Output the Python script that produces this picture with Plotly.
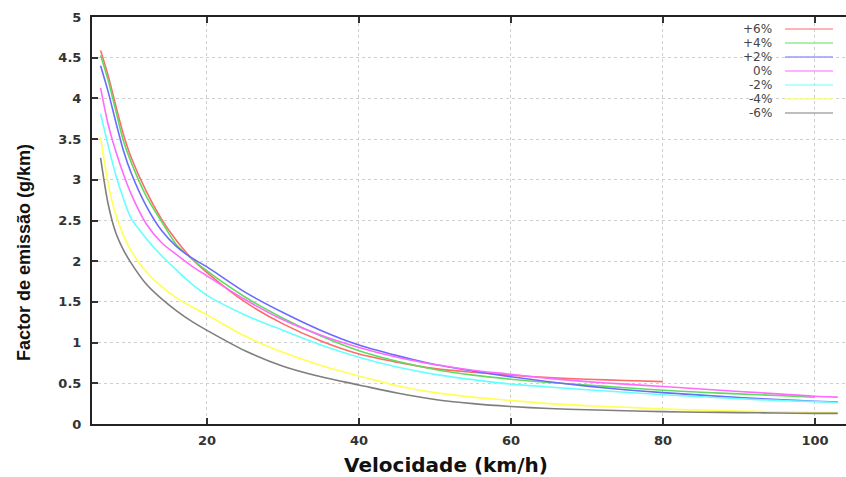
import plotly.graph_objects as go

# ---- data ----
speeds = [6, 7, 8, 9, 10, 12, 14, 16, 18, 20, 25, 30, 35, 40, 45, 50, 55, 60,
          65, 70, 75, 80, 85, 90, 95, 100, 103]

pos6 = [4.59, 4.28, 3.91, 3.56, 3.28, 2.86, 2.52, 2.25, 2.03, 1.86, 1.50, 1.23, 1.02, 0.86,
        0.76, 0.68, 0.635, 0.60, 0.57, 0.55, 0.535, 0.52, None, None, None, None, None]
pos4 = [4.53, 4.22, 3.85, 3.48, 3.22, 2.80, 2.49, 2.20, 2.03, 1.88, 1.56, 1.30, 1.08, 0.90,
        0.77, 0.67, 0.60, 0.55, 0.51, 0.48, 0.445, 0.415, 0.39, 0.37, 0.35, 0.33, None]
pos2 = [4.40, 4.08, 3.71, 3.36, 3.09, 2.68, 2.38, 2.18, 2.04, 1.93, 1.62, 1.37, 1.15, 0.97,
        0.84, 0.73, 0.65, 0.58, 0.52, 0.465, 0.42, 0.385, 0.355, 0.325, 0.30, 0.28, 0.27]
zero = [4.13, 3.68, 3.35, 3.07, 2.83, 2.46, 2.23, 2.08, 1.94, 1.82, 1.53, 1.28, 1.09, 0.94,
        0.82, 0.73, 0.66, 0.61, 0.56, 0.52, 0.49, 0.46, 0.43, 0.40, 0.37, 0.34, 0.33]
neg2 = [3.81, 3.42, 3.06, 2.77, 2.53, 2.28, 2.07, 1.89, 1.72, 1.58, 1.34, 1.15, 0.97, 0.82,
        0.70, 0.61, 0.545, 0.49, 0.455, 0.42, 0.39, 0.36, 0.335, 0.31, 0.29, 0.275, 0.265]
neg4 = [3.52, 2.95, 2.57, 2.32, 2.13, 1.87, 1.69, 1.55, 1.44, 1.34, 1.08, 0.88, 0.72, 0.59,
        0.47, 0.385, 0.33, 0.29, 0.25, 0.225, 0.205, 0.185, 0.17, 0.16, 0.15, 0.145, 0.14]
neg6 = [3.27, 2.70, 2.35, 2.14, 1.98, 1.72, 1.54, 1.39, 1.26, 1.15, 0.90, 0.71, 0.58, 0.48,
        0.38, 0.30, 0.25, 0.215, 0.19, 0.175, 0.162, 0.152, 0.145, 0.14, 0.135, 0.13, 0.13]

series_names = ["+6%", "+4%", "+2%", "0%", "-2%", "-4%", "-6%"]
series_values = [pos6, pos4, pos2, zero, neg2, neg4, neg6]

x_ticks = [20, 40, 60, 80, 100]

# ---- styles ----
line_colors = ["#ff6b6b", "#5fdc5f", "#6b6bff", "#ff6bff", "#66ffff", "#ffff55", "#7f7f7f"]
legend_colors = ["#ff9a9a", "#96e896", "#9a9aff", "#ff9aff", "#9affff", "#ffff77", "#a8a8a8"]

fig = go.Figure()
for name, vals, col in zip(series_names, series_values, line_colors):
    fig.add_trace(go.Scatter(
        x=speeds, y=vals, name=name, mode="lines",
        line=dict(color=col, width=1.6, shape="spline", smoothing=0.8),
        connectgaps=False, showlegend=False,
    ))

L, R, T, B = 92, 0, 17, 53
W, H = 846, 477
pw, ph = W - L - R, H - T - B

def px_to_paper(px, py):
    return (px - L) / pw, (H - B - py) / ph

# custom legend (text on the left, sample line on the right)
shapes = []
annotations = []
row0, dy = 29, 14
for i, (name, col) in enumerate(zip(series_names, legend_colors)):
    py = row0 + i * dy
    tx, ty = px_to_paper(773, py)
    annotations.append(dict(
        x=tx, y=ty, xref="paper", yref="paper", text=name, showarrow=False,
        xanchor="right", yanchor="middle", borderpad=0,
        font=dict(family="DejaVu Sans", size=12, color="#444444"),
    ))
    x0, y0 = px_to_paper(785, py)
    x1, _ = px_to_paper(833, py)
    shapes.append(dict(type="line", xref="paper", yref="paper", x0=x0, x1=x1, y0=y0, y1=y0,
                       line=dict(color=col, width=1.5)))

# axis titles
ax, ay = px_to_paper(446, 465)
annotations.append(dict(x=ax, y=ay, xref="paper", yref="paper", text="Velocidade (km/h)",
                        showarrow=False, xanchor="center", yanchor="middle",
                        font=dict(family="DejaVu Sans", size=20, color="#111111", weight="bold")))
bx, by = px_to_paper(24, 253)
annotations.append(dict(x=bx, y=by, xref="paper", yref="paper", text="Factor de emissão (g/km)",
                        showarrow=False, xanchor="center", yanchor="middle", textangle=-90,
                        font=dict(family="Liberation Sans", size=18, color="#111111", weight="bold")))

tick_font = dict(family="DejaVu Sans", size=13, color="#333333", weight="bold")

fig.update_layout(
    width=W, height=H,
    margin=dict(l=L, r=R, t=T, b=B, pad=0),
    plot_bgcolor="white", paper_bgcolor="white",
    shapes=shapes, annotations=annotations,
    xaxis=dict(
        range=[4.87, 104.08], tickvals=x_ticks, ticks="inside", ticklen=6, tickwidth=1.5,
        tickcolor="#333333", showline=True, linecolor="#222222", linewidth=2, mirror="ticks",
        showgrid=True, gridcolor="#cfcfcf", griddash="dot", gridwidth=1, zeroline=False,
        tickfont=tick_font, ticklabelstandoff=3,
    ),
    yaxis=dict(
        range=[0, 5], dtick=0.5, tick0=0, ticks="inside", ticklen=6, tickwidth=1.5,
        tickcolor="#333333", showline=True, linecolor="#222222", linewidth=2, mirror=False,
        showgrid=True, gridcolor="#cfcfcf", griddash="dot", gridwidth=1, zeroline=False,
        tickfont=tick_font, ticklabelstandoff=6,
    ),
)

fig.write_html("out.html")
